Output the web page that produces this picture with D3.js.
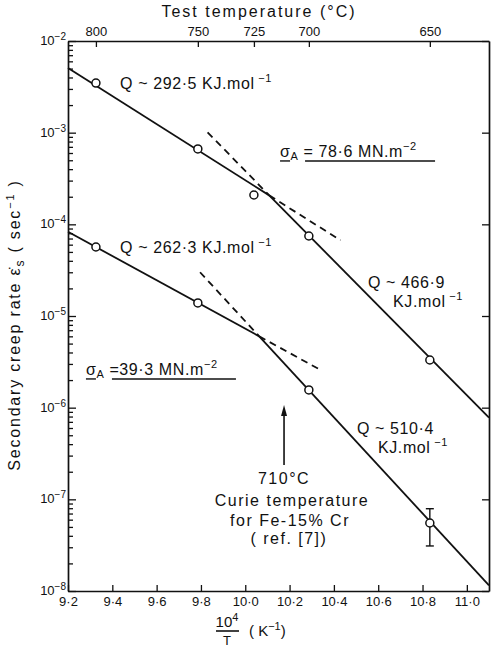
<!DOCTYPE html>
<html><head><meta charset="utf-8">
<script src="https://cdn.jsdelivr.net/npm/d3@7"></script>
<style>
body{margin:0;background:#fff}
svg text{font-family:"Liberation Sans","DejaVu Sans",Arial,sans-serif;fill:#111}
</style></head><body>
<svg id="c" width="496" height="658"></svg>
<script>
// ---------- data ----------
const temperatureLabels = ["800", "750", "725", "700", "650"];
const temperatureX = [9.326, 9.786, 10.039, 10.287, 10.833];
const bottomTicks = [9.2, 9.4, 9.6, 9.8, 10.0, 10.2, 10.4, 10.6, 10.8, 11.0];
const decadeExponents = [-2, -3, -4, -5, -6, -7, -8];

// sigma_A = 78.6 MN.m^-2
const highStressX = [9.326, 9.786, 10.039, 10.287, 10.833];
const highStressRate = [3.48e-3, 6.64e-4, 2.09e-4, 7.46e-5, 3.31e-6];
// sigma_A = 39.3 MN.m^-2
const lowStressX = [9.326, 9.786, 10.287, 10.833];
const lowStressRate = [5.66e-5, 1.39e-5, 1.56e-6, 5.52e-8];
const errorX = [10.833];
const errorLow = [3.1e-8];
const errorHigh = [7.9e-8];

// fitted lines: [first segment, second segment]
const fit2925X = [9.2, 10.108, 10.43];   const fit2925Y = [5.08e-3, 2.07e-4, 6.7e-5];  // solid, dashed
const fit4669X = [9.83, 10.108, 11.1];   const fit4669Y = [1.01e-3, 2.07e-4, 7.8e-7];  // dashed, solid
const fit2623X = [9.2, 10.063, 10.337];  const fit2623Y = [8.3e-5, 6.0e-6, 2.6e-6];    // solid, dashed
const fit5104X = [9.796, 10.063, 11.1];  const fit5104Y = [3.0e-5, 6.0e-6, 1.15e-8];   // dashed, solid

// ---------- chart ----------
const svg = d3.select("#c");
const L = 68, R = 489, T = 41, B = 591;
const x = d3.scaleLinear().domain([9.2, 11.1]).range([L, R]);
const y = d3.scaleLog().domain([1e-8, 1e-2]).range([B, T]);
const ink = "#111";

const allLogTicks = [];
for (let e = -8; e < -2; e++) for (let m = 1; m < 10; m++) allLogTicks.push(m * Math.pow(10, e));
allLogTicks.push(1e-2);

const gl = svg.append("g").attr("transform", `translate(${L},0)`)
  .call(d3.axisLeft(y).tickValues(allLogTicks).tickSizeInner(-5).tickSizeOuter(0).tickFormat(""));
gl.selectAll(".tick line").attr("x2", d => {
  const e = Math.log10(d); return Math.abs(e - Math.round(e)) < 1e-9 ? 8 : 5; });

const gr = svg.append("g").attr("transform", `translate(${R},0)`)
  .call(d3.axisRight(y).tickValues(decadeExponents.map(e => Math.pow(10, e))).tickSizeInner(-7).tickSizeOuter(0).tickFormat(""));

const gt = svg.append("g").attr("transform", `translate(0,${T})`)
  .call(d3.axisTop(x).tickValues(temperatureX).tickSizeInner(-6).tickSizeOuter(0).tickPadding(5)
    .tickFormat((d, i) => temperatureLabels[i]));

const gb = svg.append("g").attr("transform", `translate(0,${B})`)
  .call(d3.axisBottom(x).tickValues(bottomTicks).tickSizeInner(-6).tickSizeOuter(0).tickPadding(6)
    .tickFormat(d => d.toFixed(1).replace(".", "·")));

[gl, gr, gt, gb].forEach(g => {
  g.select(".domain").attr("stroke", ink).attr("stroke-width", 1.7);
  g.selectAll(".tick line").attr("stroke", ink).attr("stroke-width", 1.3);
  g.selectAll(".tick text").style("font-size", "13px").attr("fill", ink);
});

decadeExponents.forEach(e => {
  const t = svg.append("text").attr("x", L - 2).attr("y", y(Math.pow(10, e)) + 4)
    .attr("text-anchor", "end").style("font-size", "13px");
  t.append("tspan").text("10");
  t.append("tspan").attr("dy", -5).style("font-size", "10px").text("−" + (-e));
});

// titles
svg.append("text").attr("x", 259).attr("y", 17).attr("text-anchor", "middle")
  .style("font-size", "16px").style("letter-spacing", "2px")
  .text("Test  temperature  (°C)");

const yt = svg.append("text").attr("transform", `translate(20,${(T + B) / 2 + 9}) rotate(-90)`)
  .attr("text-anchor", "middle").style("font-size", "16px").style("letter-spacing", "1.8px");
yt.append("tspan").text("Secondary creep rate  ε̇");
yt.append("tspan").attr("dy", 4).style("font-size", "12px").text("s");
yt.append("tspan").attr("dy", -4).text("  ( sec");
yt.append("tspan").attr("dy", -6).style("font-size", "11px").text("−1");
yt.append("tspan").attr("dy", 6).text(" )");

// x title fraction
svg.append("text").attr("x", 227).attr("y", 627).attr("text-anchor", "middle").style("font-size", "15px")
  .call(t => { t.append("tspan").text("10"); t.append("tspan").attr("dy", -6).style("font-size", "11px").text("4"); });
svg.append("line").attr("x1", 216).attr("x2", 239).attr("y1", 631).attr("y2", 631).attr("stroke", ink).attr("stroke-width", 1.6);
svg.append("text").attr("x", 227).attr("y", 645).attr("text-anchor", "middle").style("font-size", "13px").text("T");
svg.append("text").attr("x", 249).attr("y", 636).style("font-size", "15px")
  .call(t => {
    t.append("tspan").text("(   K");
    t.append("tspan").attr("dy", -6).style("font-size", "11px").text("−1");
    t.append("tspan").attr("dy", 6).text(")");
  });

// fitted lines
function seg(xs, ys, i0, i1, dashed) {
  svg.append("line").attr("x1", x(xs[i0])).attr("y1", y(ys[i0]))
    .attr("x2", x(xs[i1])).attr("y2", y(ys[i1]))
    .attr("stroke", ink).attr("stroke-width", 1.8)
    .attr("stroke-dasharray", dashed ? "7,5" : null);
}
seg(fit2925X, fit2925Y, 0, 1, false); seg(fit2925X, fit2925Y, 1, 2, true);
seg(fit4669X, fit4669Y, 0, 1, true);  seg(fit4669X, fit4669Y, 1, 2, false);
seg(fit2623X, fit2623Y, 0, 1, false); seg(fit2623X, fit2623Y, 1, 2, true);
seg(fit5104X, fit5104Y, 0, 1, true);  seg(fit5104X, fit5104Y, 1, 2, false);

// error bar
errorX.forEach((ex, i) => {
  const g = svg.append("g").attr("stroke", ink).attr("stroke-width", 1.4);
  g.append("line").attr("x1", x(ex)).attr("x2", x(ex)).attr("y1", y(errorLow[i])).attr("y2", y(errorHigh[i]));
  g.append("line").attr("x1", x(ex) - 4).attr("x2", x(ex) + 4).attr("y1", y(errorLow[i])).attr("y2", y(errorLow[i]));
  g.append("line").attr("x1", x(ex) - 4).attr("x2", x(ex) + 4).attr("y1", y(errorHigh[i])).attr("y2", y(errorHigh[i]));
});

// points
function pts(xs, ys) {
  svg.append("g").selectAll("circle").data(xs).join("circle")
    .attr("cx", d => x(d)).attr("cy", (d, i) => y(ys[i])).attr("r", 4)
    .attr("fill", "#fff").attr("stroke", ink).attr("stroke-width", 1.5);
}
pts(highStressX, highStressRate);
pts(lowStressX, lowStressRate);

// annotations (positioned in data coordinates)
const at = (xv, e) => [x(xv), y(Math.pow(10, e))];
function qLabel(xv, e, main) {
  const [px, py] = at(xv, e);
  const t = svg.append("text").attr("x", px).attr("y", py).style("font-size", "16px").style("letter-spacing", "0.6px");
  t.append("tspan").text(main);
  return t;
}
function unit(t) {
  t.append("tspan").text("KJ.mol");
  t.append("tspan").attr("dy", -7).style("font-size", "11px").text(" −1");
}
unit(qLabel(9.435, -2.524, "Q ~ 292·5  "));
unit(qLabel(9.435, -4.313, "Q ~ 262·3 "));
qLabel(10.554, -4.694, "Q ~ 466·9");
unit(qLabel(10.667, -4.902, ""));
qLabel(10.504, -6.287, "Q ~ 510·4");
unit(qLabel(10.599, -6.494, ""));

function sigmaLabel(xv, e, rest, uStart, uEnd) {
  const [px, py] = at(xv, e);
  const t = svg.append("text").attr("x", px).attr("y", py).style("font-size", "16px").style("letter-spacing", "0.6px");
  t.append("tspan").text("σ");
  t.append("tspan").attr("dy", 3).style("font-size", "11px").text("A");
  t.append("tspan").attr("dy", -3).text(rest);
  t.append("tspan").attr("dy", -7).style("font-size", "11px").text("−2");
  svg.append("line").attr("x1", px).attr("x2", px + 10).attr("y1", py + 4).attr("y2", py + 4)
    .attr("stroke", ink).attr("stroke-width", 1.4);
  svg.append("line").attr("x1", px + uStart).attr("x2", px + uEnd).attr("y1", py + 4).attr("y2", py + 4)
    .attr("stroke", ink).attr("stroke-width", 1.4);
}
sigmaLabel(10.157, -3.265, " = 78·6  MN.m", 25, 155);
sigmaLabel(9.281, -5.643, " =39·3 MN.m", 26, 150);

// Curie temperature arrow
{
  const [ax, ay1] = at(10.175, -5.971);
  const [, ay2] = at(10.175, -6.625);
  svg.append("line").attr("x1", ax).attr("x2", ax).attr("y1", ay1 + 6).attr("y2", ay2)
    .attr("stroke", ink).attr("stroke-width", 1.6);
  svg.append("path").attr("d", `M${ax},${ay1} L${ax - 3},${ay1 + 11} L${ax + 3},${ay1 + 11} Z`).attr("fill", ink);
}
[["710°C", 10.175, -6.833], ["Curie  temperature", 10.211, -7.073],
 ["for  Fe-15% Cr", 10.202, -7.291], ["( ref. [7])", 10.197, -7.487]].forEach(([s, xv, e]) => {
  const [px, py] = at(xv, e);
  svg.append("text").attr("x", px).attr("y", py).attr("text-anchor", "middle")
    .style("font-size", "16px").style("letter-spacing", "1.5px").text(s);
});
</script>
</body></html>
